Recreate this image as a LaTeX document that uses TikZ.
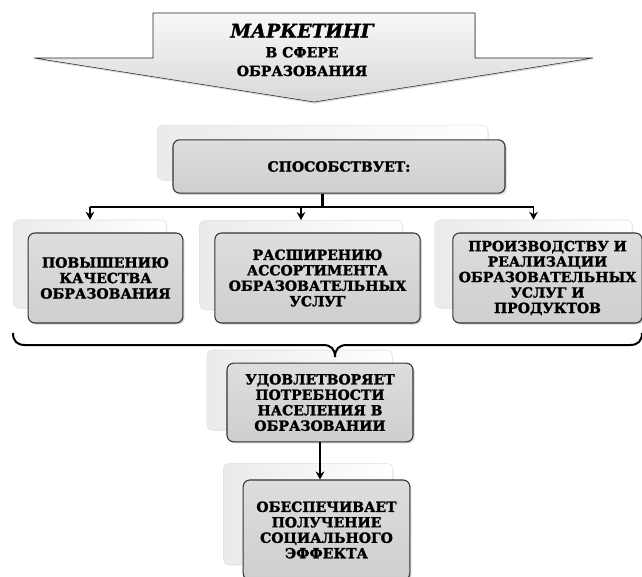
\documentclass[tikz,border=0pt]{standalone}
\usepackage{fontspec}
\setmainfont{DejaVu Serif}[BoldFeatures={FakeBold=1.6},BoldItalicFeatures={FakeBold=1.6}]
\usepackage{tikz}
\usetikzlibrary{arrows.meta,shadows}

\tikzset{
  panel/.style={draw=gray!25,rounded corners=4pt,left color=gray!16,right color=white,
    inner sep=0pt,drop shadow={shadow xshift=0.8pt,shadow yshift=-0.8pt,opacity=0.14}},
  card/.style={draw=black!80,thick,rounded corners=5pt,top color=gray!26,bottom color=gray!38,
    drop shadow={shadow xshift=1.2pt,shadow yshift=-1.2pt,opacity=0.35},
    align=center,inner sep=2pt,font=\fontsize{10.5}{11.6}\selectfont\bfseries},
  link/.style={thick,-{Stealth[length=6pt,width=6.5pt]}}
}

\begin{document}
\begin{tikzpicture}[x=0.75pt,y=-0.75pt]
  \useasboundingbox (0,0) rectangle (642,577);

  % head arrow
  \draw[black!85,top color=gray!6,bottom color=gray!30,
        drop shadow={shadow xshift=0.8pt,shadow yshift=-1.2pt,opacity=0.3}]
    (153,13)--(475,13)--(475,58)--(593,58)--(314,102)--(34,58)--(153,58)--cycle;
  \node[align=center,font=\fontsize{10.5}{14}\selectfont\bfseries] (title) at (302,50)
    {{\fontsize{14}{16}\selectfont\itshape МАРКЕТИНГ}\\[1pt] В СФЕРЕ\\ ОБРАЗОВАНИЯ};

  \node[panel,minimum width=248pt,minimum height=41pt] (topback) at (322.5,152.5) {};
  \node[card,minimum width=249pt,minimum height=40pt] (top) at (339,166.5) {СПОСОБСТВУЕТ:};

  \node[panel,minimum width=115pt,minimum height=66pt] (incback) at (90,264) {};
  \node[panel,minimum width=152pt,minimum height=67pt] (extback) at (301,265) {};
  \node[panel,minimum width=148pt,minimum height=66pt] (prodback) at (533.5,264) {};
  \node[card,minimum width=116pt,minimum height=67.5pt] (inc) at (105.5,278)
    {ПОВЫШЕНИЮ\\ КАЧЕСТВА\\ ОБРАЗОВАНИЯ};
  \node[card,minimum width=154pt,minimum height=67.5pt] (ext) at (317.5,278)
    {РАСШИРЕНИЮ\\ АССОРТИМЕНТА\\ ОБРАЗОВАТЕЛЬНЫХ\\ УСЛУГ};
  \node[card,minimum width=142pt,minimum height=67.5pt] (prod) at (547.5,278)
    {ПРОИЗВОДСТВУ И\\ РЕАЛИЗАЦИИ\\ ОБРАЗОВАТЕЛЬНЫХ\\ УСЛУГ И\\ ПРОДУКТОВ};

  \node[panel,minimum width=139pt,minimum height=60pt] (satback) at (299.5,390) {};
  \node[card,minimum width=139.5pt,minimum height=59pt] (sat) at (320,402.5)
    {УДОВЛЕТВОРЯЕТ\\ ПОТРЕБНОСТИ\\ НАСЕЛЕНИЯ В\\ ОБРАЗОВАНИИ};

  \node[panel,minimum width=127pt,minimum height=76pt] (effback) at (308,514) {};
  \node[card,minimum width=125pt,minimum height=75pt] (eff) at (326.5,530)
    {ОБЕСПЕЧИВАЕТ\\ ПОЛУЧЕНИЕ\\ СОЦИАЛЬНОГО\\ ЭФФЕКТА};

  % branching from the top box
  \coordinate (bus) at (322,207);
  \draw[line width=2.4pt] (topback.south |- top.south) -- (topback.south |- bus);
  \draw[thick] (incback.north |- bus) -- (prodback.north |- bus);
  \foreach \b in {incback,extback,prodback}
    \draw[link] (\b.north |- bus) -- (\b.north);

  % brace under the row
  \draw[line width=1.5pt] (13,333) .. controls (13,341) and (17,345) .. (25,345) -- (323,345)
    .. controls (331,345) and (335,349) .. (335,357)
    .. controls (335,349) and (339,345) .. (347,345) -- (630,345)
    .. controls (638,345) and (642,341) .. (642,333);

  \draw[link,line width=1.1pt] (sat.south) -- (sat.south |- eff.north);
\end{tikzpicture}
\end{document}
